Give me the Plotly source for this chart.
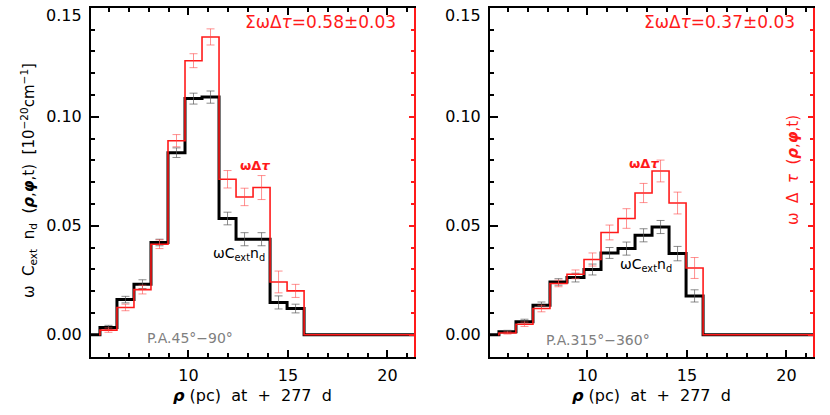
import plotly.graph_objects as go

# bin edges of the radial histogram (pc)
bin_edges = [5.55, 6.405, 7.26, 8.115, 8.97, 9.825, 10.68, 11.535, 12.39, 13.245, 14.1, 14.955, 15.81]
x_range = [5.1, 21.35]
y_ticks = [0.0, 0.05, 0.10, 0.15]

# P.A. 45-90
left_ext = [0.0033, 0.0161, 0.0232, 0.0423, 0.0835, 0.1083, 0.1090, 0.0533, 0.0438, 0.0438, 0.0148, 0.0120]
left_ext_err = [0.0010, 0.0015, 0.0020, 0.0015, 0.0022, 0.0025, 0.0028, 0.0029, 0.0030, 0.0030, 0.0030, 0.0020]
left_tau = [0.0021, 0.0125, 0.0207, 0.0415, 0.0890, 0.1257, 0.1366, 0.0713, 0.0632, 0.0675, 0.0242, 0.0201]
left_tau_err = [0.0010, 0.0015, 0.0020, 0.0020, 0.0028, 0.0032, 0.0037, 0.0040, 0.0040, 0.0055, 0.0050, 0.0030]

# P.A. 315-360
right_ext = [0.0013, 0.0059, 0.0135, 0.0242, 0.0262, 0.0299, 0.0375, 0.0395, 0.0456, 0.0494, 0.0372, 0.0178]
right_ext_err = [0.0007, 0.0012, 0.0015, 0.0015, 0.0020, 0.0025, 0.0025, 0.0030, 0.0030, 0.0030, 0.0033, 0.0028]
right_tau = [0.0008, 0.0048, 0.0120, 0.0235, 0.0277, 0.0345, 0.0469, 0.0533, 0.0650, 0.0751, 0.0604, 0.0306]
right_tau_err = [0.0005, 0.0010, 0.0015, 0.0015, 0.0020, 0.0030, 0.0034, 0.0045, 0.0044, 0.0050, 0.0050, 0.0048]

panels = [
    dict(ext=left_ext, ext_err=left_ext_err, tau=left_tau, tau_err=left_tau_err,
         total="0.58±0.03", pa="P.A.45°−90°",
         tau_lab=(13.35, 0.0777), ext_lab=(12.55, 0.0372), pa_lab=(10.08, -0.0017)),
    dict(ext=right_ext, ext_err=right_ext_err, tau=right_tau, tau_err=right_tau_err,
         total="0.37±0.03", pa="P.A.315°−360°",
         tau_lab=(12.85, 0.0785), ext_lab=(12.95, 0.0319), pa_lab=(10.55, -0.0025)),
]

RED = "#ff1a1a"
FONT = "DejaVu Sans"
W, H = 830, 415
x_domains = [[91 / W, 414.3 / W], [490 / W, 813.3 / W]]
y_domain = [(H - 356.5) / H, (H - 7.5) / H]
y_range = [-0.01, 0.1501]

centers = [(a + b) / 2 for a, b in zip(bin_edges[:-1], bin_edges[1:])]
step_x = [x_range[0]] + bin_edges + [x_range[1]]
# the top label sits a little below its tick in the original, so it is drawn as an annotation
tick_text = [f"{v:.2f}" for v in y_ticks[:-1]] + [""]

fig = go.Figure()
annotations = []

for i, p in enumerate(panels):
    n = i + 1
    xa = "x" if n == 1 else f"x{n}"
    ya = "y" if n == 1 else f"y{n}"
    ya_red = f"y{n + 2}"
    fig.add_trace(go.Scatter(x=step_x, y=[0] + p["ext"] + [0, 0], mode="lines", line_shape="hv",
                             line=dict(color="black", width=3), xaxis=xa, yaxis=ya, showlegend=False))
    fig.add_trace(go.Scatter(x=centers, y=p["ext"], mode="markers", marker=dict(size=1, color="rgba(0,0,0,0)"),
                             error_y=dict(type="data", array=p["ext_err"], color="rgba(90,90,90,0.7)",
                                          thickness=1, width=4),
                             xaxis=xa, yaxis=ya, showlegend=False))
    # red optical-depth histogram belongs to the red right-hand axis
    fig.add_trace(go.Scatter(x=step_x, y=[0] + p["tau"] + [0, 0], mode="lines", line_shape="hv",
                             line=dict(color=RED, width=1.6), xaxis=xa, yaxis=ya_red, showlegend=False))
    fig.add_trace(go.Scatter(x=centers, y=p["tau"], mode="markers", marker=dict(size=1, color="rgba(0,0,0,0)"),
                             error_y=dict(type="data", array=p["tau_err"], color="rgba(255,70,70,0.6)",
                                          thickness=1, width=4),
                             xaxis=xa, yaxis=ya_red, showlegend=False))

    annotations += [
        dict(x=x_domains[i][0] - 7.5 / W, y=(H - 15) / H, xref="paper", yref="paper", xanchor="right",
             yanchor="middle", showarrow=False, text=f"{y_ticks[-1]:.2f}",
             font=dict(family=FONT, size=16, color="black")),
        dict(x=20.55, y=0.1433, xref=xa, yref=ya, xanchor="right", yanchor="middle", showarrow=False,
             text=f"ΣωΔ<i>τ</i>={p['total']}", font=dict(family=FONT, size=17, color=RED)),
        dict(x=p["tau_lab"][0], y=p["tau_lab"][1], xref=xa, yref=ya, xanchor="center", yanchor="middle",
             showarrow=False, text="<b>ωΔ<i>τ</i></b>", font=dict(family=FONT, size=13, color=RED)),
        dict(x=p["ext_lab"][0], y=p["ext_lab"][1], xref=xa, yref=ya, xanchor="center", yanchor="middle",
             showarrow=False, text="ωC<sub>ext</sub>n<sub>d</sub>", font=dict(family=FONT, size=14, color="black")),
        dict(x=p["pa_lab"][0], y=p["pa_lab"][1], xref=xa, yref=ya, xanchor="center", yanchor="middle",
             showarrow=False, text=p["pa"], font=dict(family=FONT, size=14, color="#808080")),
        dict(x=sum(x_domains[i]) / 2, y=(H - 395) / H, xref="paper", yref="paper", xanchor="center",
             yanchor="middle", showarrow=False,
             text="<b><i>ρ</i></b> (pc)  at  +  277  d", font=dict(family=FONT, size=16, color="black")),
    ]

    axis_common = dict(showline=True, linewidth=2, ticks="inside", showgrid=False, zeroline=False,
                       automargin=False)
    fig.update_layout({
        f"xaxis{'' if n == 1 else n}": dict(
            domain=x_domains[i], anchor=ya, range=x_range, dtick=5, tick0=0, ticklen=7, tickwidth=1.5,
            linecolor="black", tickcolor="black", mirror="ticks",
            minor=dict(ticks="inside", dtick=1, ticklen=4, tickcolor="black"),
            tickfont=dict(family=FONT, size=16, color="black"), ticklabelstandoff=3, **axis_common),
        f"yaxis{'' if n == 1 else n}": dict(
            domain=y_domain, anchor=xa, range=y_range, tickmode="array", tickvals=y_ticks,
            ticktext=tick_text, ticklen=8, tickwidth=1.5,
            linecolor="black", tickcolor="black",
            minor=dict(ticks="inside", dtick=0.01, tick0=0, ticklen=4, tickcolor="black"),
            tickfont=dict(family=FONT, size=16, color="black"), ticklabelstandoff=4, **axis_common),
        f"yaxis{n + 2}": dict(
            overlaying=ya, anchor=xa, side="right", range=y_range, tickmode="array", tickvals=y_ticks,
            ticklen=5, tickwidth=1.5, linecolor=RED, tickcolor=RED, showticklabels=False,
            minor=dict(ticks="inside", dtick=0.01, tick0=0, ticklen=3, tickcolor=RED), **axis_common),
    })

annotations += [
    dict(x=28 / W, y=(H - 181) / H, xref="paper", yref="paper", xanchor="center", yanchor="middle",
         showarrow=False, textangle=-90,
         text="ω\u00a0 C<sub>ext</sub>\u00a0 n<sub>d</sub>\u00a0 (<b><i>ρ</i></b>,<b><i>φ</i></b>,t)\u00a0 [10<sup>−20</sup>cm<sup>−1</sup>]",
         font=dict(family=FONT, size=15, color="black")),
    dict(x=793 / W, y=(H - 170) / H, xref="paper", yref="paper", xanchor="center", yanchor="middle",
         showarrow=False, textangle=-90,
         text="ω\u00a0 Δ\u00a0 <i>τ</i>\u00a0 (<b><i>ρ</i></b>,<b><i>φ</i></b>,t)",
         font=dict(family=FONT, size=15, color=RED)),
]

fig.update_layout(
    width=W, height=H, margin=dict(l=0, r=0, t=0, b=0),
    paper_bgcolor="white", plot_bgcolor="white",
    annotations=annotations,
)

# the page body has a default 8px margin; drop it so the figure sits at the window corner
fig.write_html("out.html", config={"displayModeBar": False},
               post_script="document.body.style.margin='0';")
